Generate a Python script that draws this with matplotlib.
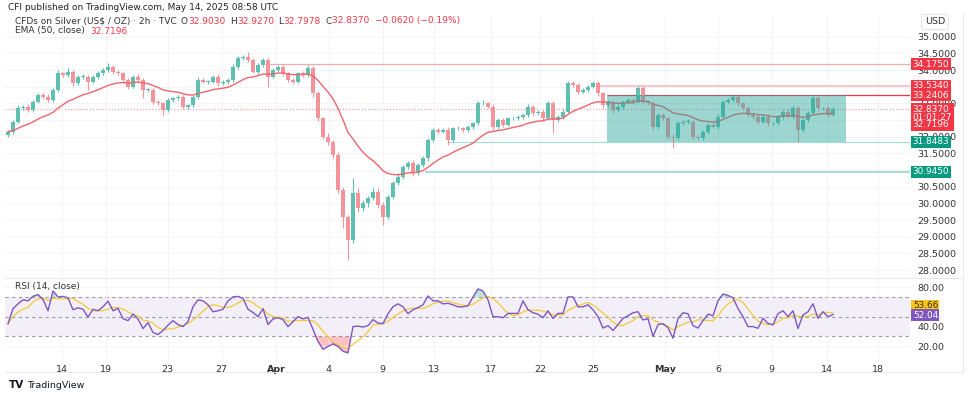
import numpy as np
import pandas as pd
import matplotlib
matplotlib.use("Agg")
import matplotlib.pyplot as plt
from matplotlib.patches import Rectangle
from matplotlib.lines import Line2D

closes = [32.15, 32.45, 32.86, 32.9, 32.8, 33.05, 33.25, 33.2, 33.1, 33.4,
          33.9, 33.85, 33.95, 33.6, 33.8, 33.8, 33.65, 33.8, 33.9, 34.0,
          34.1, 33.95, 33.9, 33.7, 33.5, 33.8, 33.7, 33.4, 33.4, 33.05,
          33.0, 32.8, 33.1, 33.15, 33.2, 32.9, 32.95, 33.2, 33.7, 33.65,
          33.65, 33.8, 33.6, 33.65, 33.7, 34.1, 34.35, 34.4, 34.3, 33.95,
          34.15, 34.3, 33.8, 34.0, 34.1, 33.9, 33.7, 33.65, 33.9, 33.85,
          34.05, 33.3, 32.55, 32.0, 31.85, 31.45, 30.4, 29.6, 28.9, 30.3,
          29.85, 30.0, 30.15, 30.35, 29.95, 29.6, 30.2, 30.6, 30.8, 31.1,
          31.2, 30.9, 31.15, 31.35, 31.9, 32.2, 32.15, 32.2, 31.9, 32.25,
          32.25, 32.2, 32.3, 32.4, 33.0, 33.0, 32.9, 32.3, 32.5, 32.35,
          32.55, 32.55, 32.6, 32.65, 32.9, 32.7, 32.75, 32.55, 33.0, 32.5,
          32.6, 32.75, 33.6, 33.55, 33.35, 33.4, 33.5, 33.6, 33.3, 32.95,
          33.05, 32.8, 32.9, 33.05, 33.1, 33.05, 33.45, 33.05, 33.0, 32.3,
          32.65, 32.55, 32.0, 31.95, 32.4, 32.45, 32.45, 32.0, 31.95, 32.15,
          32.35, 32.3, 32.6, 33.05, 33.1, 33.2, 33.0, 32.85, 32.65, 32.6,
          32.45, 32.6, 32.4, 32.4, 32.6, 32.75, 32.6, 32.85, 32.2, 32.5,
          32.7, 33.15, 32.85, 32.85, 32.65, 32.837]
first_open = 32.05
up_wick = [0.05, 0.06, 0.08, 0.05, 0.07, 0.04, 0.06, 0.05, 0.08, 0.06,
           0.1, 0.05, 0.1, 0.06, 0.05, 0.07, 0.05, 0.06, 0.08, 0.05,
           0.1, 0.05, 0.06, 0.04, 0.06, 0.05, 0.07, 0.05, 0.06, 0.05,
           0.06, 0.04, 0.07, 0.05, 0.06, 0.05, 0.04, 0.06, 0.08, 0.05,
           0.06, 0.05, 0.07, 0.05, 0.06, 0.08, 0.06, 0.06, 0.15, 0.06,
           0.05, 0.07, 0.05, 0.06, 0.05, 0.06, 0.05, 0.07, 0.05, 0.06,
           0.1, 0.06, 0.08, 0.05, 0.1, 0.06, 0.08, 0.1, 0.06, 0.45,
           0.15, 0.1, 0.08, 0.12, 0.1, 0.08, 0.06, 0.08, 0.1, 0.06,
           0.08, 0.1, 0.06, 0.08, 0.06, 0.05, 0.07, 0.05, 0.08, 0.05,
           0.06, 0.05, 0.06, 0.05, 0.06, 0.1, 0.05, 0.08, 0.05, 0.06,
           0.04, 0.03, 0.05, 0.06, 0.08, 0.05, 0.06, 0.05, 0.08, 0.06,
           0.05, 0.07, 0.06, 0.08, 0.05, 0.06, 0.05, 0.07, 0.06, 0.05,
           0.06, 0.05, 0.07, 0.05, 0.06, 0.05, 0.08, 0.06, 0.05, 0.06,
           0.05, 0.06, 0.05, 0.07, 0.06, 0.05, 0.07, 0.06, 0.05, 0.06,
           0.05, 0.06, 0.07, 0.06, 0.05, 0.05, 0.06, 0.05, 0.07, 0.05,
           0.06, 0.05, 0.07, 0.05, 0.06, 0.05, 0.07, 0.08, 0.06, 0.05,
           0.06, 0.07, 0.06, 0.05, 0.06, 0.05]
dn_wick = [0.05, 0.06, 0.05, 0.07, 0.05, 0.06, 0.05, 0.07, 0.06, 0.05,
           0.06, 0.05, 0.06, 0.07, 0.05, 0.06, 0.25, 0.05, 0.06, 0.05,
           0.05, 0.06, 0.05, 0.07, 0.06, 0.05, 0.06, 0.25, 0.06, 0.07,
           0.06, 0.15, 0.05, 0.06, 0.05, 0.07, 0.06, 0.05, 0.06, 0.05,
           0.06, 0.05, 0.07, 0.05, 0.06, 0.05, 0.07, 0.05, 0.06, 0.05,
           0.06, 0.05, 0.3, 0.05, 0.06, 0.07, 0.05, 0.06, 0.05, 0.06,
           0.05, 0.1, 0.08, 0.06, 0.1, 0.08, 0.1, 0.35, 0.6, 0.1,
           0.1, 0.08, 0.1, 0.06, 0.1, 0.25, 0.06, 0.08, 0.06, 0.07,
           0.06, 0.08, 0.06, 0.05, 0.07, 0.05, 0.06, 0.05, 0.15, 0.06,
           0.05, 0.06, 0.05, 0.07, 0.05, 0.06, 0.05, 0.1, 0.06, 0.05,
           0.03, 0.04, 0.05, 0.06, 0.05, 0.06, 0.05, 0.07, 0.06, 0.4,
           0.05, 0.06, 0.05, 0.07, 0.06, 0.05, 0.06, 0.05, 0.07, 0.1,
           0.06, 0.08, 0.05, 0.06, 0.05, 0.06, 0.05, 0.07, 0.06, 0.1,
           0.06, 0.05, 0.07, 0.3, 0.06, 0.05, 0.06, 0.07, 0.06, 0.05,
           0.06, 0.05, 0.06, 0.05, 0.06, 0.05, 0.07, 0.06, 0.05, 0.07,
           0.06, 0.05, 0.07, 0.06, 0.05, 0.06, 0.05, 0.06, 0.35, 0.06,
           0.05, 0.06, 0.07, 0.05, 0.06, 0.04]

# RSI(14) per bar
rsi = [42.8, 58, 63, 67, 66, 70.7, 72.3, 67.4, 56, 76,
       70, 70.5, 69, 57, 59, 57.5, 49.5, 57.5, 56, 60,
       65.7, 56, 58.5, 48, 46, 52.6, 47.7, 38, 44, 34,
       32, 36, 41.5, 46, 42, 40, 45, 60, 67, 66,
       62, 55, 56, 57.5, 66, 70, 70.5, 68.5, 57.5, 54.3,
       50, 58, 42, 47.7, 49, 47, 40, 45, 50, 47.7,
       49.3, 37, 25, 17, 20, 22.5, 20, 15, 13.5, 40,
       40.5, 39.5, 41, 47, 43.5, 43, 53, 60, 63, 60,
       53, 57, 59.2, 62, 71, 66, 66, 63, 63.5, 62,
       60, 60, 61, 70, 78, 76, 67, 50, 50, 49,
       53.3, 53.3, 53.3, 66, 57, 54, 52.5, 49, 56, 48.3,
       53.3, 53.3, 70, 70, 60, 60, 62, 57, 50, 38.5,
       41, 36, 42, 48.3, 51, 54, 55, 46.7, 48, 30,
       42, 43, 39, 28.3, 48, 54, 53, 41, 38.5, 46,
       52.5, 51, 66, 73, 71.5, 69, 58.3, 50, 40, 40,
       38.3, 48.3, 43.3, 41.7, 53, 56, 50, 56, 38, 51.7,
       55, 63, 48.3, 55, 50, 52.04]

# date labels and the bar they sit on
date_labels = ["14", "19", "23", "27", "Apr", "4", "9", "13", "17", "22", "25", "May", "6", "9", "14", "18"]
date_bars = [10.7, 19.6, 31.9, 42.7, 53.6, 64.2, 74.9, 85.2, 96.6, 106.4, 117.0, 131.4, 142.0, 152.7, 163.7, 174.0]

# price scale labels left visible (the rest sit behind the coloured tags)
price_ticks = [28.0, 28.5, 29.0, 29.5, 30.0, 30.5, 31.5, 32.0, 33.0, 34.0, 34.5, 35.0]
rsi_ticks = [20, 40, 80]

# drawn levels: price, bar where the line starts
levels = [34.1750, 33.5340, 33.2406, 31.8483, 30.9450]
level_start = [51.4, 118.4, 119.8, 87.8, 83.4]
level_color = ["#f7a9ae", "#f9c4c8", "#f23645", "#a8ddd6", "#a8ddd6"]
level_lw = [0.9, 1.4, 0.9, 0.9, 1.4]
box_bars = (119.8, 167.6)
box_prices = (31.8483, 33.2406)
last_price = 32.837
ema_last = 32.7196
rsi_ma_last = 53.66

EMA_SPAN = 18   # 50 bars of 2h, scaled to the thinned bars
RSI_MA = 5

UP = "#5fbfb1"
DN = "#f4939a"

W, H = 975, 394
fig = plt.figure(figsize=(W / 100, H / 100), dpi=100)
plt.rcParams['font.family'] = ['DejaVu Sans']


def fx(px):
    return px / W


def fy(py):
    return 1 - py / H


L, R = 5, 910
ax = fig.add_axes([fx(L), fy(278), fx(R - L), (278 - 15) / H])
ax2 = fig.add_axes([fx(L), fy(362), fx(R - L), (362 - 278) / H], sharex=ax)
XMAX = 180.4

x = np.arange(len(closes))
c = np.array(closes)
o = np.r_[first_open, c[:-1]]
hi = np.maximum(o, c) + np.array(up_wick)
lo = np.minimum(o, c) - np.array(dn_wick)
col = np.where(c >= o, UP, DN)

ax.vlines(x, lo, hi, colors=col, lw=0.8, zorder=3)
ax.bar(x, np.maximum(np.abs(c - o), 0.015), bottom=np.minimum(o, c), width=0.64,
       color=col, lw=0, zorder=3)

ema = pd.Series(closes).ewm(span=EMA_SPAN, adjust=False).mean()
ax.plot(x, ema, color="#f0646d", lw=1.0, zorder=3.5)

ax.axhline(last_price, color="#f6a3a9", ls=(0, (1, 1.5)), lw=0.9, zorder=1)
for lv, st, cl, lw in zip(levels, level_start, level_color, level_lw):
    ax.hlines(lv, st, XMAX, colors=cl, lw=lw, zorder=2)
ax.add_patch(Rectangle((box_bars[0], box_prices[0]), box_bars[1] - box_bars[0],
                       box_prices[1] - box_prices[0], facecolor="#26a69a", alpha=0.45, lw=0, zorder=4))

ax.set_xlim(-0.6, XMAX)
ax.set_ylim(27.76, 35.65)
ax.set_yticks(np.arange(28.0, 35.01, 0.5), minor=True)
ax.set_yticks(price_ticks)
ax.yaxis.tick_right()
ax.yaxis.set_major_formatter(matplotlib.ticker.FormatStrFormatter("%.4f"))
ax.tick_params(axis="y", which="both", length=0, pad=5.5, labelsize=6.8, labelcolor="#333333")
ax.tick_params(axis="x", length=0, labelbottom=False)
ax.set_xticks(date_bars)
ax.grid(which="both", color="#f1f2f6", lw=0.6, zorder=0)

# RSI pane
r = np.array(rsi)
rma = pd.Series(rsi).rolling(RSI_MA, min_periods=1).mean()
ax2.axhspan(30, 70, color="#7e57c2", alpha=0.09, lw=0, zorder=0.5)
for lv in (70, 50, 30):
    ax2.axhline(lv, color="#9a9aa6", ls=(0, (3, 3)), lw=0.8, zorder=1)
ax2.fill_between(x, r, 30, where=r < 30, interpolate=True, color="#f23645", alpha=0.3, lw=0, zorder=1.5)
ax2.fill_between(x, r, 70, where=r > 70, interpolate=True, color="#26a69a", alpha=0.3, lw=0, zorder=1.5)
ax2.plot(x, rma, color="#f5c93b", lw=0.9, zorder=2)
ax2.plot(x, r, color="#7e57c2", lw=1.0, zorder=3)
ax2.set_ylim(4.2, 89.1)
ax2.set_yticks([20, 40, 60, 80], minor=True)
ax2.set_yticks(rsi_ticks)
ax2.yaxis.tick_right()
ax2.yaxis.set_major_formatter(matplotlib.ticker.FormatStrFormatter("%.2f"))
ax2.tick_params(axis="y", which="both", length=0, pad=5.5, labelsize=6.8, labelcolor="#333333")
ax2.set_xticks(date_bars)
ax2.set_xticklabels(date_labels)
ax2.tick_params(axis="x", length=0, pad=2, labelsize=6.8, labelcolor="#333333")
for t in ax2.get_xticklabels():
    if t.get_text() in ("Apr", "May"):
        t.set_fontweight("bold")
ax2.grid(which="both", color="#f1f2f6", lw=0.6, zorder=0)

for a in (ax, ax2):
    for s in a.spines.values():
        s.set_visible(False)


def tag(a, yv, s, fc, tc="white", size=6.4, ls=1.0):
    a.annotate(s, xy=(1, yv), xycoords=a.get_yaxis_transform(), xytext=(2.0, 0),
               textcoords="offset points", ha="left", va="center", fontsize=size,
               color=tc, linespacing=ls, zorder=10, annotation_clip=False,
               bbox=dict(boxstyle="square,pad=0.15", fc=fc, ec="none"))


for lv in levels[:3]:
    tag(ax, lv, f"{lv:.4f}", "#f23645")
tag(ax, 32.59, f"{last_price:.4f}\n01:01:27\n{ema_last:.4f}", "#f23645", ls=0.82)
for lv in levels[3:]:
    tag(ax, lv, f"{lv:.4f}", "#089981")
tag(ax2, 61.0, f"{rsi_ma_last:.2f}", "#f7c51e", tc="#3a3000")
tag(ax2, 51.7, f"{rsi[-1]:.2f}", "#7e57c2")

fig.text(fx(935), fy(22), "USD", fontsize=6.8, color="#333333", ha="center", va="center",
         bbox=dict(boxstyle="round,pad=0.35", fc="white", ec="#e0e3eb", lw=0.7))


def text_run(px, py, parts, size=6.5):
    t = fig.text(fx(px), fy(py), parts[0][0], color=parts[0][1], fontsize=size, va="center")
    for s, cl, gap in parts[1:]:
        t = ax.annotate(s, xy=(1, 0.5), xycoords=t, xytext=(gap, 0), textcoords="offset points",
                        va="center", fontsize=size, color=cl, annotation_clip=False)


fig.text(fx(8), fy(8), "CFI published on TradingView.com, May 14, 2025 08:58 UTC",
         fontsize=6.5, color="#222222", va="center")
RED = "#f23645"
DARK = "#333333"
text_run(15, 21, [("CFDs on Silver (US$ / OZ) · 2h · TVC", DARK), ("O", DARK, 3),
                  ("32.9030", RED, 0.3), ("H", DARK, 3), ("32.9270", RED, 0.3), ("L", DARK, 3),
                  ("32.7978", RED, 0.3), ("C", DARK, 3), ("32.8370  −0.0620 (−0.19%)", RED, 0.3)])
text_run(15, 31, [("EMA (50, close)", DARK), (f"{ema_last:.4f}", RED, 4)])
text_run(15, 286, [("RSI (14, close)", DARK), (f"{rsi[-1]:.2f}", "#7e57c2", 4),
                   (f"{rsi_ma_last:.2f}", "#e8b600", 4)])

fig.text(fx(9), fy(385), "TV", fontsize=7.5, fontweight="bold", color="#131722", va="center")
fig.text(fx(27), fy(385), "TradingView", fontsize=6.8, color="#131722", va="center")

for (x0, y0, x1, y1) in [(L, 278, 963, 278), (963, 14, 963, 372), (L, 372, 963, 372)]:
    fig.add_artist(Line2D([fx(x0), fx(x1)], [fy(y0), fy(y1)], color="#e6e8ee", lw=0.7))

fig.savefig("out.png", dpi=100)
